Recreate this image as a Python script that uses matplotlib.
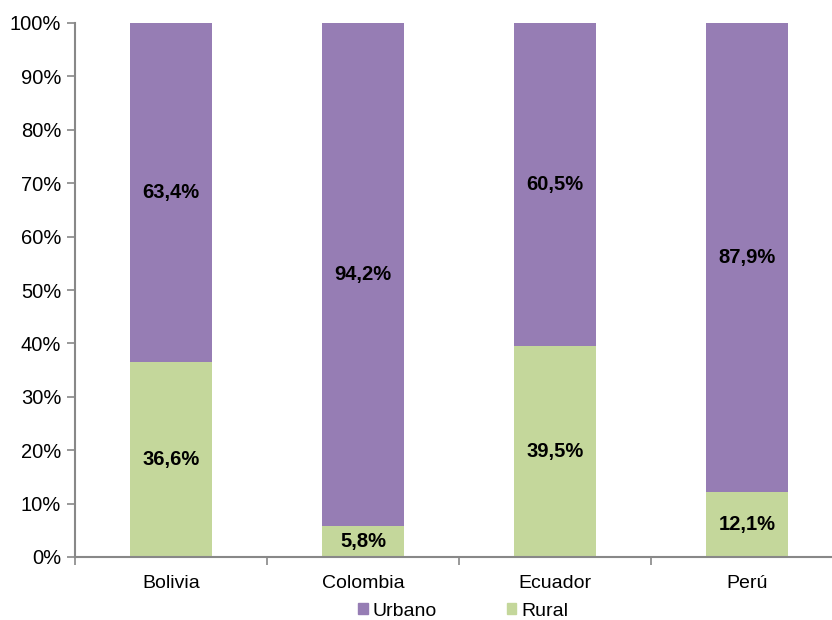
import matplotlib
matplotlib.use("Agg")
import matplotlib.pyplot as plt
from matplotlib.ticker import FixedLocator, PercentFormatter
from matplotlib.patches import Patch

categories = ["Bolivia", "Colombia", "Ecuador", "Perú"]
rural = [36.6, 5.8, 39.5, 12.1]
urbano = [63.4, 94.2, 60.5, 87.9]
rural_labels = ["36,6%", "5,8%", "39,5%", "12,1%"]
urbano_labels = ["63,4%", "94,2%", "60,5%", "87,9%"]

plt.rcParams['font.family'] = ['Liberation Sans', 'DejaVu Sans']

W, H = 832, 620
fig = plt.figure(figsize=(W/100, H/100), dpi=100)
ax = fig.add_axes([75/W, 63/H, (843-75)/W, 534/H])

purple = "#967DB4"
green = "#C4D79B"
x = list(range(len(categories)))
bw = 0.43
ax.bar(x, rural, width=bw, color=green, zorder=2)
ax.bar(x, urbano, width=bw, bottom=rural, color=purple, zorder=2)

for i in x:
    ax.text(i, rural[i]/2, rural_labels[i], ha='center', va='center',
            fontsize=14.5, fontweight='bold', color='black')
    ax.text(i, rural[i] + urbano[i]/2, urbano_labels[i], ha='center', va='center',
            fontsize=14.5, fontweight='bold', color='black')

ax.set_xlim(-0.5, len(categories) - 0.5)
ax.set_ylim(0, 100)
ax.set_yticks(range(0, 101, 10))
ax.yaxis.set_major_formatter(PercentFormatter(decimals=0))
ax.set_xticks(x)
ax.set_xticklabels(categories)
ax.xaxis.set_minor_locator(FixedLocator([i + 0.5 for i in range(-1, len(categories))]))
ax.tick_params(axis='x', which='major', length=0, pad=13, labelsize=14)
ax.tick_params(axis='x', which='minor', length=6, color='#888888', width=1.2)
ax.tick_params(axis='y', length=6, color='#888888', width=1.2, labelsize=14.5, pad=4)

for s in ['top', 'right']:
    ax.spines[s].set_visible(False)
for s in ['left', 'bottom']:
    ax.spines[s].set_color('#888888')
    ax.spines[s].set_linewidth(1.5)

handles = [Patch(color=purple, label='Urbano'), Patch(color=green, label='Rural')]
fig.legend(handles=handles, loc='center', bbox_to_anchor=(463/W, 1 - 611/H),
           ncol=2, frameon=False, fontsize=14, handlelength=0.5, handleheight=0.5,
           handletextpad=0.25, columnspacing=3.6, borderpad=0)

fig.savefig("out.png", dpi=100)
